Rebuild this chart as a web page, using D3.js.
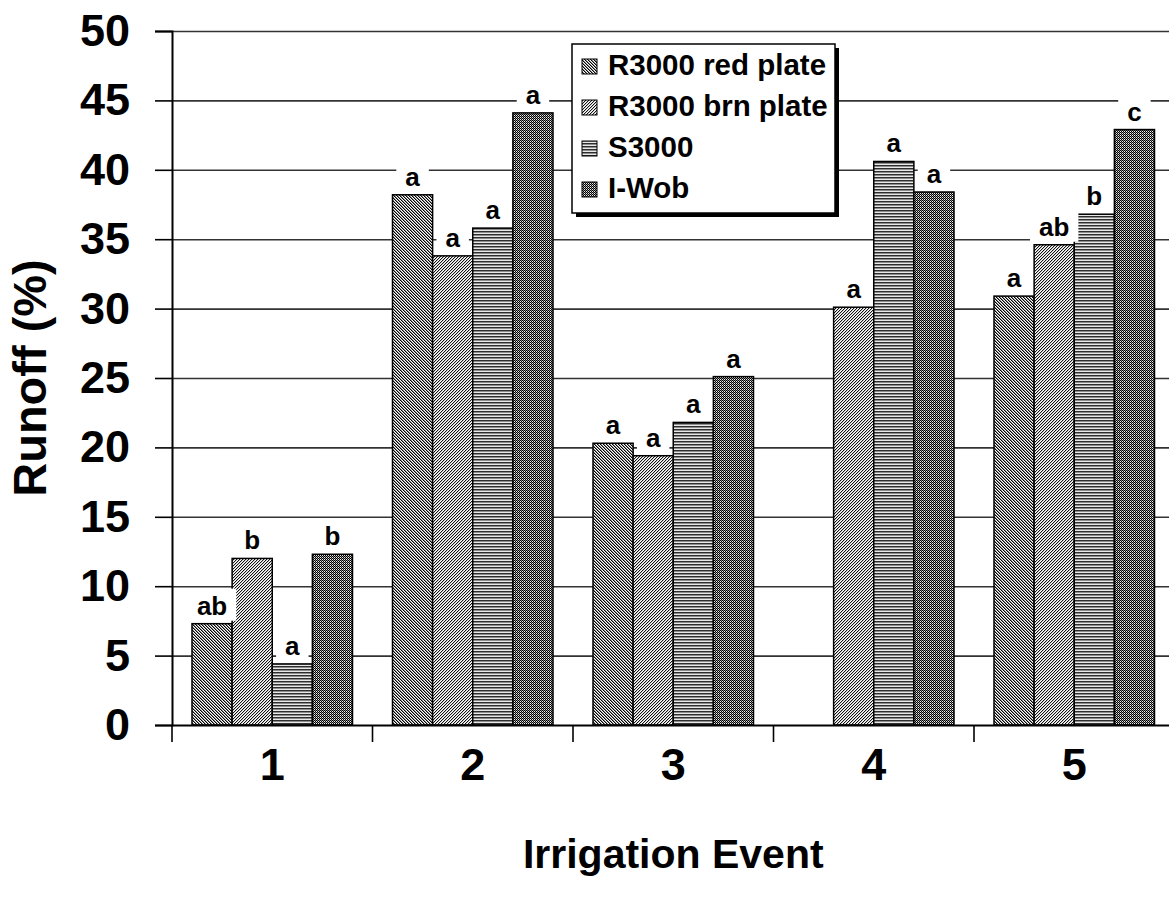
<!DOCTYPE html>
<html>
<head>
<meta charset="utf-8">
<script src="https://cdn.jsdelivr.net/npm/d3@7"></script>
<style>
  html, body { margin: 0; padding: 0; background: #fff; }
  svg { display: block; }
  text { font-family: "Liberation Sans", Arial, sans-serif; font-weight: bold; fill: #000; }
</style>
</head>
<body>
<svg id="chart" width="1169" height="901"></svg>
<script>
// ---- data ----
const categories = ["1", "2", "3", "4", "5"];
const seriesNames = ["R3000 red plate", "R3000 brn plate", "S3000", "I-Wob"];
const redPlate = [7.3, 38.2, 20.3, null, 30.9];
const brnPlate = [12.0, 33.8, 19.4, 30.1, 34.6];
const s3000    = [4.4, 35.8, 21.8, 40.6, 36.8];
const iwob     = [12.3, 44.1, 25.1, 38.4, 42.9];
const redLabels = ["ab", "a", "a", "", "a"];
const brnLabels = ["b", "a", "a", "a", "ab"];
const s3000Labels = ["a", "a", "a", "a", "b"];
const iwobLabels = ["b", "a", "a", "a", "c"];
const yTicks = [0, 5, 10, 15, 20, 25, 30, 35, 40, 45, 50];
const xTitle = "Irrigation Event";
const yTitle = "Runoff (%)";

const seriesValues = [redPlate, brnPlate, s3000, iwob];
const seriesLabels = [redLabels, brnLabels, s3000Labels, iwobLabels];

// ---- layout ----
const svg = d3.select("#chart");
const mLeft = 172, mRight = 1174.5, mTop = 31, mBottom = 725;

const x = d3.scaleBand().domain(categories).range([mLeft, mRight]).paddingInner(0).paddingOuter(0);
const inner = d3.scaleBand().domain(d3.range(seriesNames.length)).range([20, x.bandwidth() - 20]).padding(0);
const y = d3.scaleLinear().domain([0, 50]).range([mBottom, mTop]);

// ---- patterns ----
const defs = svg.append("defs");
const patternDefs = [
  { size: 3, px: (i, j) => { const m = ((i - j) % 3 + 3) % 3; return m === 0 ? "#000" : m === 1 ? "#8a8a8a" : "#fff"; } },
  { size: 3, px: (i, j) => { const m = (i + j) % 3; return m === 0 ? "#111" : m === 1 ? "#c4c4c4" : "#fff"; } },
  { size: 3, px: (i, j) => j === 0 ? "#2e2e2e" : j === 1 ? "#8c8c8c" : "#e8e8e8" },
  { size: 2, px: (i, j) => ((i + j) % 2 === 0) ? "#000" : (i === 1 ? "#8a8a8a" : "#f0f0f0") }
];
patternDefs.forEach((p, k) => {
  const pat = defs.append("pattern").attr("id", "pat" + k)
    .attr("patternUnits", "userSpaceOnUse").attr("width", p.size).attr("height", p.size);
  for (let i = 0; i < p.size; i++) for (let j = 0; j < p.size; j++) {
    pat.append("rect").attr("x", i).attr("y", j).attr("width", 1).attr("height", 1)
      .attr("fill", p.px(i, j)).attr("shape-rendering", "crispEdges");
  }
});

// ---- gridlines ----
const grid = svg.append("g").attr("transform", `translate(${mLeft},0)`)
  .call(d3.axisLeft(y).tickValues(yTicks.filter(d => d > 0)).tickSize(-(mRight - mLeft)).tickFormat(""));
grid.select(".domain").remove();
grid.selectAll("line").attr("stroke", "#333").attr("stroke-width", 1.6);

// ---- bars ----
const barsG = svg.append("g");
seriesValues.forEach((vals, s) => {
  barsG.selectAll(".bar" + s)
    .data(categories.map((c, i) => ({ c, v: vals[i] })).filter(d => d.v !== null))
    .enter().append("rect")
    .attr("x", d => x(d.c) + inner(s))
    .attr("y", d => y(d.v))
    .attr("width", inner.bandwidth())
    .attr("height", d => y(0) - y(d.v))
    .attr("fill", `url(#pat${s})`)
    .attr("stroke", "#000").attr("stroke-width", 1.5);
});

// ---- data labels ----
const labG = svg.append("g");
seriesValues.forEach((vals, s) => {
  categories.forEach((c, i) => {
    const v = vals[i], lab = seriesLabels[s][i];
    if (v === null || !lab) return;
    const cx = x(c) + inner(s) + inner.bandwidth() / 2;
    const base = y(v) - 9;
    const g = labG.append("g");
    const t = g.append("text").attr("x", cx).attr("y", base)
      .attr("text-anchor", "middle").attr("font-size", 26).text(lab);
    const w = t.node().getComputedTextLength();
    g.insert("rect", "text").attr("x", cx - w / 2 - 9).attr("y", base - 26)
      .attr("width", w + 18).attr("height", 32).attr("fill", "#fff");
  });
});

// ---- y axis ----
const yAxis = svg.append("g").attr("transform", `translate(${mLeft},0)`)
  .call(d3.axisLeft(y).tickValues(yTicks).tickSize(17).tickPadding(25).tickFormat(d3.format("d")));
yAxis.select(".domain").attr("stroke", "#000").attr("stroke-width", 2);
yAxis.selectAll("line").attr("stroke", "#000").attr("stroke-width", 1.6);
yAxis.selectAll("text").attr("font-size", 45).attr("font-family", "Liberation Sans, Arial, sans-serif").attr("font-weight", "bold").attr("fill", "#000");

// ---- x axis ----
const xAxis = svg.append("g").attr("transform", `translate(0,${mBottom})`)
  .call(d3.axisBottom(x).tickSize(0).tickPadding(23));
xAxis.select(".domain").attr("stroke", "#000").attr("stroke-width", 2);
xAxis.selectAll("text").attr("font-size", 45).attr("font-family", "Liberation Sans, Arial, sans-serif").attr("font-weight", "bold").attr("fill", "#000");
xAxis.selectAll(".boundary").data(categories.concat(["end"])).enter().append("line")
  .attr("class", "boundary")
  .attr("x1", (d, i) => mLeft + i * x.step()).attr("x2", (d, i) => mLeft + i * x.step())
  .attr("y1", 0).attr("y2", 17).attr("stroke", "#000").attr("stroke-width", 1.6);

// ---- titles ----
svg.append("text").attr("x", (mLeft + mRight) / 2).attr("y", 868).attr("text-anchor", "middle")
  .attr("font-size", 41).text(xTitle);
svg.append("text").attr("transform", `translate(46,${(mTop + mBottom) / 2}) rotate(-90)`)
  .attr("text-anchor", "middle").attr("font-size", 47).text(yTitle);

// ---- legend ----
const lg = svg.append("g").attr("transform", "translate(572,44)");
const lw = 263, lh = 169;
lg.append("rect").attr("x", 4).attr("y", 4).attr("width", lw).attr("height", lh).attr("fill", "#000");
lg.append("rect").attr("x", 0).attr("y", 0).attr("width", lw).attr("height", lh)
  .attr("fill", "#fff").attr("stroke", "#000").attr("stroke-width", 1.5);
seriesNames.forEach((name, s) => {
  const by = 31 + s * 41;
  lg.append("rect").attr("x", 10).attr("y", by - 16).attr("width", 15).attr("height", 15)
    .attr("fill", `url(#pat${s})`).attr("stroke", "#000").attr("stroke-width", 1);
  lg.append("text").attr("x", 36).attr("y", by).attr("font-size", 29.5).text(name);
});
</script>
</body>
</html>
